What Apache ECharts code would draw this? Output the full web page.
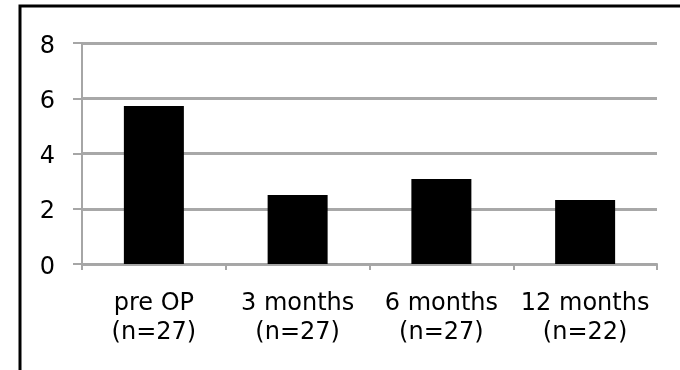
<!DOCTYPE html>
<html>
<head>
<meta charset="utf-8">
<script src="https://cdn.jsdelivr.net/npm/echarts@6/dist/echarts.min.js"></script>
<style>
html,body{margin:0;padding:0;background:#fff;}
#c{width:680px;height:370px;}
</style>
</head>
<body>
<div id="c"></div>
<script>
const categories = ['pre OP', '3 months', '6 months', '12 months'];
const sampleSizes = ['(n=27)', '(n=27)', '(n=27)', '(n=22)'];
const values = [5.72, 2.5, 3.08, 2.32];
const yTicks = { min: 0, max: 8, interval: 2 };

const chart = echarts.init(document.getElementById('c'), null, { renderer: 'canvas' });
const font = '"DejaVu Sans", sans-serif';
chart.setOption({
  animation: false,
  backgroundColor: '#fff',
  graphic: [{
    type: 'rect',
    shape: { x: 20, y: 6, width: 720, height: 420 },
    style: { fill: 'none', stroke: '#000', lineWidth: 3 },
    silent: true
  }],
  grid: { left: 82, right: 23, top: 43, bottom: 106, containLabel: false },
  xAxis: {
    type: 'category',
    data: categories.map((c, i) => c + '\n' + sampleSizes[i]),
    axisLine: { show: true, lineStyle: { color: '#a6a6a6', width: 2 } },
    axisTick: { show: true, alignWithLabel: false, length: 6, lineStyle: { color: '#a6a6a6', width: 2 } },
    axisLabel: { color: '#000', fontFamily: font, fontSize: 24, lineHeight: 29, margin: 25, interval: 0 },
    splitLine: { show: false }
  },
  yAxis: {
    type: 'value',
    min: yTicks.min, max: yTicks.max, interval: yTicks.interval,
    axisLine: { show: true, lineStyle: { color: '#a6a6a6', width: 2 } },
    axisTick: { show: true, length: 9, lineStyle: { color: '#a6a6a6', width: 2 } },
    axisLabel: { color: '#000', fontFamily: font, fontSize: 24, margin: 27, verticalAlign: 'top', lineHeight: 7 },
    splitLine: { show: true, lineStyle: { color: '#a8a8a8', width: 3 } }
  },
  series: [{
    type: 'bar',
    data: values,
    barWidth: 60,
    itemStyle: { color: '#000' }
  }]
});
</script>
</body>
</html>
